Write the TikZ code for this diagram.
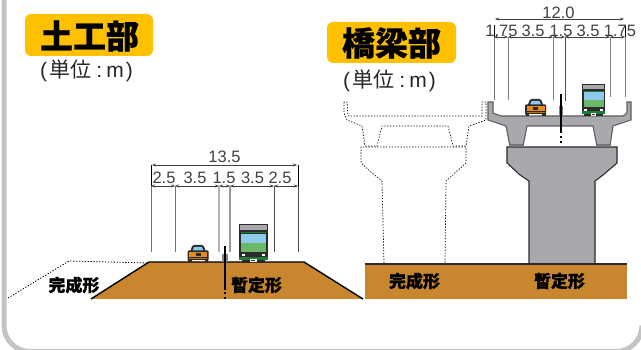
\documentclass[tikz,border=0pt]{standalone}
\usepackage{fontspec}
\setmainfont{Liberation Sans}
\newfontfamily\cjk{Noto Sans CJK JP}
\newfontfamily\cjkh[BoldFeatures={FakeBold=0.6}]{Noto Sans CJK JP}
\usetikzlibrary{arrows.meta}
\definecolor{soil}{HTML}{C8872E}
\definecolor{badge}{HTML}{FFC000}
\definecolor{concrete}{HTML}{A7A9AC}
\definecolor{outline}{HTML}{2B2B2B}
\definecolor{frame}{HTML}{C4C4C4}
\definecolor{glass}{HTML}{8CCBEB}
\definecolor{panel}{HTML}{6BB968}
\definecolor{trim}{HTML}{1E7B3A}
\definecolor{carbody}{HTML}{E8891C}
\tikzset{
  badgebox/.style={fill=badge,rounded corners=6,inner sep=0},
  badgetext/.style={font=\cjkh\bfseries\fontsize{33}{33}\selectfont,inner sep=0,text=black},
  unitlabel/.style={font=\fontsize{21}{21}\selectfont,inner sep=0,text=black!85},
  formlabel/.style={font=\cjkh\bfseries\fontsize{17}{17}\selectfont,inner sep=0,text=black},
  dimtext/.style={font=\fontsize{16.5}{16.5}\selectfont,inner sep=0,text=black!75},
  dimline/.style={draw=black!75,line width=0.7,{Stealth[length=4,width=3]}-{Stealth[length=4,width=3]}},
  softdots/.style={draw=black,line width=0.8,dash pattern=on 1.3 off 1.6},
  pics/car/.style={code={
    \fill[outline,rounded corners=1.5] (2.5,-10) -- (5,-17) -- (16,-17) -- (18.5,-10) -- cycle;
    \fill[glass] (5,-11) -- (6.5,-15) -- (14.5,-15) -- (16,-11) -- cycle;
    \fill[outline,rounded corners=1] (0,-1) rectangle (21,-11.5);
    \fill[carbody] (1.5,-4.5) rectangle (19.5,-10);
    \fill[carbody!80!black] (1.5,-2.5) rectangle (19.5,-4);
    \fill[outline] (8,-5.5) rectangle (13,-8.5);
    \fill[outline] (0.5,0) rectangle (4,-2);
    \fill[outline] (17,0) rectangle (20.5,-2);
    \fill[white] (4,-.8) rectangle (17,-2);
  }},
  pics/truck/.style={code={
    \fill[outline] (0,-3.5) rectangle (29,-39);
    \fill[concrete] (1,-32.5) rectangle (28,-38);
    \fill[glass] (2,-20) rectangle (27,-29);
    \fill[panel] (2,-11) rectangle (27,-20);
    \fill[trim] (2,-29.5) rectangle (27,-31);
    \fill[trim] (0,-3) rectangle (29,-5.5);
    \fill[white] (3,-6.5) rectangle (6,-9);
    \fill[white] (23,-6.5) rectangle (26,-9);
    \fill[outline] (3,0) rectangle (11,-3);
    \fill[outline] (18,0) rectangle (26,-3);
    \fill[white] (11,-.5) rectangle (18,-3.5);
    \fill[outline] (12.5,-1.5) rectangle (16.5,-3);
  }}
}
\begin{document}
\begin{tikzpicture}[x=1pt,y=-1pt]
\useasboundingbox (0,0) rectangle (641,350);
\begin{scope}
\clip (0,0) rectangle (641,350);
\draw[frame,line width=5] (4,-5) -- (4,325.5) arc[start angle=180,end angle=90,radius=26] -- (616,351.5) arc[start angle=90,end angle=0,radius=26];
\end{scope}

% ---------- earthwork section
\node[badgebox,minimum width=128,minimum height=42] (earthbox) at (89,35) {};
\node[badgetext] (earthtitle) at (89.5,36) {土工部};
\node[unitlabel] (earthunit) at (86.5,71) {(\hspace{.1em}{\cjk 単位}\hspace{.25em}:\hspace{.2em}m\hspace{.1em})};

\draw[softdots] (8,298) -- (69,261) -- (149,263);
\fill[soil] (91,299) -- (149,262) -- (304,262) -- (363,299) -- cycle;
\draw[black,line width=1.4] (91,299) -- (149,262) -- (304,262) -- (363,299);
\fill[concrete!80!black] (222,254) rectangle (228,262);
\draw[black,line width=1.4] (225,246) -- (225,290);
\draw[black,line width=1.4,dash pattern=on 2 off 2.5] (225,292.5) -- (225,299);
\pic at (187.5,262) {car};
\pic at (238.5,263) {truck};

\foreach \x/\w/\c in {151/.8/45,175/.9/45,219/1.2/70,230/1.5/60,274/.8/30,298/.8/30}
  \draw[draw=white!\c!black,line width=\w] (\x,252) -- (\x,186);
\draw[black,line width=.8] (151,186) -- (151,165);
\draw[black,line width=.8] (298,186) -- (298,165);
\draw[dimline] (152,165) -- (297,165);
\foreach \a/\b in {151/175,175/219,219/230,230/274,274/298}
  \draw[dimline] (\a,186) -- (\b,186);
\node[dimtext] (d135) at (224.5,157) {13.5};
\foreach \x/\t [count=\i] in {164/2.5,195/3.5,224/1.5,252.5/3.5,280/2.5}
  \node[dimtext] (da\i) at (\x,178) {\t};
\node[formlabel] (earthfinal) at (74,285) {完成形};
\node[formlabel] (earthtemp) at (256.5,285) {暫定形};

% ---------- bridge section
\node[badgebox,minimum width=129,minimum height=41] (bridgebox) at (391.5,42.5) {};
\node[badgetext] (bridgetitle) at (391.5,43) {橋梁部};
\node[unitlabel] (bridgeunit) at (389.5,81) {(\hspace{.1em}{\cjk 単位}\hspace{.25em}:\hspace{.2em}m\hspace{.1em})};

% ground
\fill[soil] (365,264) rectangle (627,299);
% pier and girder, temporary form
\fill[concrete,draw=outline,line width=1.1] (529,264) -- (529,181) -- (520,175) -- (507,163) -- (507,147) -- (617,147) -- (617,163) -- (603,175) -- (595,181) -- (595,264);
\fill[concrete,draw=concrete!55!black,line width=1.1]
  (488,102) -- (493,102) -- (493,113) -- (501,116) -- (623,116) -- (627,113) -- (627,102) -- (631,102) -- (631,120) -- (613,126) -- (610,146) -- (597,146) -- (593,126) -- (527,126) -- (523,146) -- (510,146) -- (506,126) -- (488,120) -- cycle;
\fill[concrete!70!black] (510,144) rectangle (523,147);
\fill[concrete!70!black] (597,144) rectangle (610,147);
\draw[outline,line width=2] (365,264) -- (627,264);
% dotted final form
\draw[softdots,line width=.7] (344,102) -- (344,113) -- (347,120) -- (362,126) -- (365,146) -- (377,146) -- (382,126) -- (448,126) -- (453,146) -- (466,146) -- (469,126) -- (486,120) -- (486,102) -- (482,102) -- (482,116) -- (348,116) -- (347,102) -- cycle;
\draw[softdots,line width=.7] (384,263) -- (382,181) -- (372,173) -- (361,163) -- (361,147) -- (466,147) -- (466,163) -- (455,173) -- (446,181) -- (445,263);

\fill[concrete!80!black] (559,106) rectangle (563,116);
\draw[black,line width=1.4] (561,94) -- (561,133);
\draw[black,line width=1.4,dash pattern=on 2 off 2.8] (561,136) -- (561,144);
\pic at (525,116) {car};
\pic[xscale=.8,yscale=.82] at (582,116) {truck};

\foreach \x/\y/\w/\c in {494/100/1/45,508/100/1/50,553/100/.9/50,565/101/.9/30,610/97/1/50,625/97/1/50}
  \draw[draw=white!\c!black,line width=\w] (\x,\y) -- (\x,37);
\draw[black,line width=.8] (494,37) -- (494,25);
\draw[black,line width=.8] (625,37) -- (625,25);
\draw[dimline] (495,19) -- (624,19);
\foreach \a/\b in {494/508,508/553,553/565,565/610,610/625}
  \draw[dimline] (\a,37) -- (\b,37);
\node[dimtext] (d120) at (558.5,12.5) {12.0};
\foreach \x/\t [count=\i] in {501.5/1.75,533/3.5,561/1.5,588/3.5,620/1.75}
  \node[dimtext] (db\i) at (\x,31) {\t};
\node[formlabel] (bridgefinal) at (414.5,281) {完成形};
\node[formlabel] (bridgetemp) at (559.5,281) {暫定形};
\end{tikzpicture}
\end{document}
